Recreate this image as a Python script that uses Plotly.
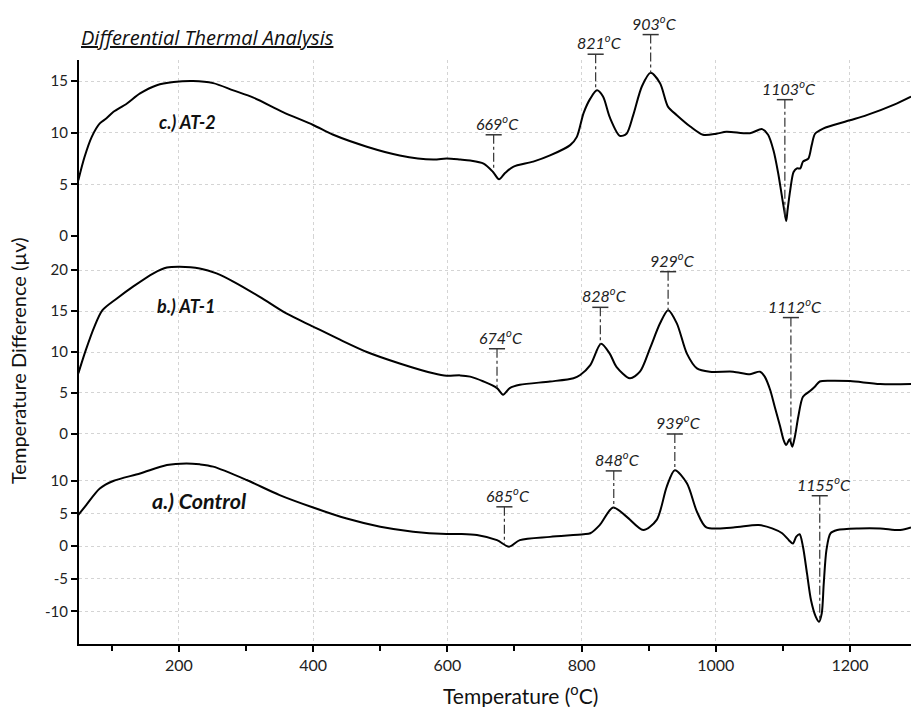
import plotly.graph_objects as go

# ---------------- data ----------------
temp_at2 = [50, 59, 70, 82, 92, 102, 122, 142, 167, 192, 221, 251, 281, 311, 355, 400, 430, 480, 529, 579,
            599, 619, 634, 654, 668, 677, 686, 698, 728, 753, 783, 793, 803, 813, 823, 832, 842, 857,
            867, 877, 890, 903, 917, 929, 942, 962, 981, 1001, 1016, 1051, 1069, 1078, 1086, 1093,
            1098, 1102, 1105, 1107, 1111, 1116, 1121, 1126, 1130, 1138, 1143, 1148, 1160, 1200, 1225,
            1265, 1291]
dta_at2 = [5.4, 7.6, 9.6, 10.9, 11.4, 12.0, 12.8, 13.8, 14.6, 14.9, 15.0, 14.8, 14.1, 13.4, 12.0, 10.75, 9.8,
           8.65, 7.8, 7.4, 7.5, 7.4, 7.3, 7.0, 6.2, 5.5, 6.1, 6.7, 7.2, 7.8, 8.8, 9.6, 11.9, 13.3, 14.1,
           13.5, 11.5, 9.7, 9.9, 11.7, 14.5, 15.8, 14.8, 12.5, 11.7, 10.6, 9.8, 9.9, 10.1, 9.95, 10.35,
           9.8, 8.3, 6.1, 4.1, 2.5, 1.45, 2.5, 4.45, 6.2, 6.55, 6.55, 7.2, 7.5, 8.8, 9.9, 10.4, 11.2,
           11.7, 12.7, 13.5]

temp_at1 = [50, 61, 74, 86, 107, 132, 162, 182, 201, 231, 256, 281, 321, 360, 400, 440, 480, 529, 579,
            599, 619, 634, 654, 674, 683, 693, 708, 753, 788, 798, 813, 829, 842, 852, 872, 887, 902,
            917, 929, 942, 957, 972, 991, 1026, 1051, 1066, 1073, 1081, 1088, 1096, 1101, 1105, 1110,
            1114, 1118, 1123, 1130, 1140, 1148, 1155, 1170, 1200, 1245, 1291]
dta_at1 = [7.4, 10.2, 13.1, 15.1, 16.5, 18.0, 19.6, 20.3, 20.4, 20.2, 19.6, 18.6, 16.7, 14.7, 13.1, 11.5,
           10.0, 8.6, 7.4, 7.1, 7.15, 7.0, 6.4, 5.6, 4.8, 5.6, 6.0, 6.4, 6.8, 7.2, 8.4, 11.0, 9.8, 8.2,
           6.8, 7.6, 10.45, 13.5, 15.1, 13.5, 9.8, 8.0, 7.6, 7.6, 7.3, 7.6, 7.0, 5.4, 3.3, 0.9, -0.7,
           -1.35, -0.65, -1.55, -0.3, 2.1, 4.55, 5.2, 5.8, 6.4, 6.5, 6.45, 6.1, 6.1]

temp_ctrl = [50, 62, 82, 102, 142, 182, 211, 231, 251, 301, 350, 400, 450, 500, 549, 599, 619, 644,
             674, 692, 708, 753, 803, 813, 827, 847, 867, 892, 912, 927, 939, 957, 972, 986, 1026,
             1064, 1084, 1099, 1109, 1115, 1120, 1125, 1130, 1136, 1142, 1149, 1154, 1158, 1161,
             1165, 1171, 1181, 1213, 1245, 1275, 1291]
dta_ctrl = [4.75, 6.3, 8.8, 9.95, 11.1, 12.4, 12.65, 12.5, 12.15, 10.1, 7.8, 5.9, 4.2, 2.95, 2.2, 1.85,
            1.85, 1.7, 0.9, -0.1, 0.9, 1.4, 1.8, 1.95, 3.2, 5.9, 4.5, 2.45, 4.0, 9.1, 11.6, 9.6, 5.25,
            2.85, 2.85, 3.2, 2.7, 1.95, 0.9, 0.4, 1.45, 1.8, -0.1, -4.2, -8.3, -10.8, -11.6, -10.3,
            -5.7, -0.6, 1.95, 2.45, 2.7, 2.7, 2.45, 2.85]

# peak markers: temperature, cap level, tip level (on the curve)
peaks_at2 = [669, 821, 903, 1103]
cap_at2 = [9.8, 17.6, 19.5, 13.2]
tip_at2 = [6.4, 14.1, 15.8, 1.7]

peaks_at1 = [674, 828, 929, 1112]
cap_at1 = [10.4, 15.45, 19.8, 14.2]
tip_at1 = [5.6, 10.9, 15.0, -1.1]

peaks_ctrl = [685, 848, 939, 1155]
cap_ctrl = [6.0, 11.5, 17.15, 7.7]
tip_ctrl = [0.4, 5.9, 11.6, -11.4]

panel_names = ["c.) AT-2", "b.) AT-1", "a.) Control"]
ticks_at2 = [0, 5, 10, 15]
ticks_at1 = [0, 5, 10, 15, 20]
ticks_ctrl = [-10, -5, 0, 5, 10]
ticklabels_ctrl = ["-10", "-5", "0", "5", "10"]

# ---------------- layout geometry ----------------
W, H = 911, 707
L, R, T, B = 79, 0, 60, 63
PW, PH = W - L - R, H - T - B

range_at2 = [0, 17.04]
range_at1 = [-3.0, 24.15]
range_ctrl = [-15.0, 17.15]
dom_at2 = [0.6986, 1.0]
dom_at1 = [0.3175, 0.6986]   # lower part overlaps the bottom panel so the dip is not cut
dom_ctrl = [0.0, 0.3596]

FONT = "Lato, 'Open Sans', sans-serif"
GRID = "#d4d4d4"

fig = go.Figure()

series = [(temp_at2, dta_at2, "y"), (temp_at1, dta_at1, "y2"), (temp_ctrl, dta_ctrl, "y3")]
for t, v, ya in series:
    fig.add_trace(go.Scatter(x=t, y=v, mode="lines", yaxis=ya, xaxis="x",
                             line=dict(color="black", width=2, shape="spline", smoothing=0.8),
                             showlegend=False, hoverinfo="skip"))


def to_dom(v, rng):
    return (v - rng[0]) / (rng[1] - rng[0])


shapes = []
annotations = []
marker_sets = [
    (peaks_at2, cap_at2, tip_at2, "y", range_at2),
    (peaks_at1, cap_at1, tip_at1, "y2", range_at1),
    (peaks_ctrl, cap_ctrl, tip_ctrl, "y3", range_ctrl),
]
for pk, cap, tip, ya, rng in marker_sets:
    yref = ya + " domain"
    for p, c, tp in zip(pk, cap, tip):
        shapes.append(dict(type="line", xref="x", yref=yref, x0=p, x1=p,
                           y0=to_dom(c, rng), y1=to_dom(tp, rng),
                           line=dict(color="#333333", width=1.2, dash="dashdot")))
        shapes.append(dict(type="line", xref="x", yref=yref, x0=p - 12, x1=p + 12,
                           y0=to_dom(c, rng), y1=to_dom(c, rng),
                           line=dict(color="#333333", width=1.5)))
        annotations.append(dict(x=p, y=to_dom(c, rng), xref="x", yref=yref,
                                text="<i>%d<sup>o</sup>C</i>" % p,
                                showarrow=False, xanchor="center", yanchor="bottom",
                                xshift=4, yshift=0,
                                font=dict(family=FONT, size=16, color="#222222")))

# panel labels
panel_pos = [(212, 11.0, "y", 18), (210, 15.6, "y2", 18), (231, 6.9, "y3", 21.5)]
for name, (px_, py_, ya, fs) in zip(panel_names, panel_pos):
    annotations.append(dict(x=px_, y=py_, xref="x", yref=ya, text="<b><i>%s</i></b>" % name,
                            showarrow=False, xanchor="center", yanchor="middle",
                            font=dict(family=FONT, size=fs, color="#111111")))


def px2paper_x(px):
    return (px - L) / PW


def px2paper_y(py):
    return (H - B - py) / PH


annotations.append(dict(x=px2paper_x(79), y=px2paper_y(37), xref="paper", yref="paper",
                        text="<i><u>Differential Thermal Analysis</u></i>", showarrow=False,
                        xanchor="left", yanchor="middle",
                        font=dict(family="'Open Sans', Lato, sans-serif", size=20, color="#111111")))
annotations.append(dict(x=px2paper_x(520), y=px2paper_y(694), xref="paper", yref="paper",
                        text="Temperature (<sup>o</sup>C)", showarrow=False,
                        xanchor="center", yanchor="middle",
                        font=dict(family=FONT, size=21, color="#111111")))
annotations.append(dict(x=px2paper_x(18), y=px2paper_y(361), xref="paper", yref="paper",
                        text="Temperature Difference (µv)", showarrow=False, textangle=-90,
                        xanchor="center", yanchor="middle",
                        font=dict(family=FONT, size=20, color="#111111")))

yax_common = dict(anchor="x", showline=True, linecolor="black", linewidth=2, ticks="outside",
                  ticklen=6, tickwidth=1.5, tickcolor="black", showgrid=True, gridcolor=GRID,
                  griddash="dot", gridwidth=1, zeroline=False,
                  tickfont=dict(family=FONT, size=15, color="#222222"))

fig.update_layout(
    width=W, height=H,
    margin=dict(l=L, r=R, t=T, b=B),
    paper_bgcolor="white", plot_bgcolor="rgba(0,0,0,0)",
    showlegend=False,
    xaxis=dict(range=[51, 1291], anchor="y3", tick0=0, dtick=200, showline=True, linecolor="black",
               linewidth=2, ticks="outside", ticklen=6, tickwidth=1.5, tickcolor="black",
               showgrid=True, gridcolor=GRID, griddash="dot", gridwidth=1, zeroline=False,
               minor=dict(tick0=0, dtick=100, ticks="outside", ticklen=5, tickwidth=1.5,
                          tickcolor="black", showgrid=False),
               tickfont=dict(family=FONT, size=16, color="#222222")),
    yaxis=dict(domain=dom_at2, range=range_at2, tickvals=ticks_at2, **yax_common),
    yaxis2=dict(domain=dom_at1, range=range_at1, tickvals=ticks_at1, **yax_common),
    yaxis3=dict(domain=dom_ctrl, range=range_ctrl, tickvals=ticks_ctrl, ticktext=ticklabels_ctrl,
                **yax_common),
    shapes=shapes,
    annotations=annotations,
)

fig.write_html("out.html")
